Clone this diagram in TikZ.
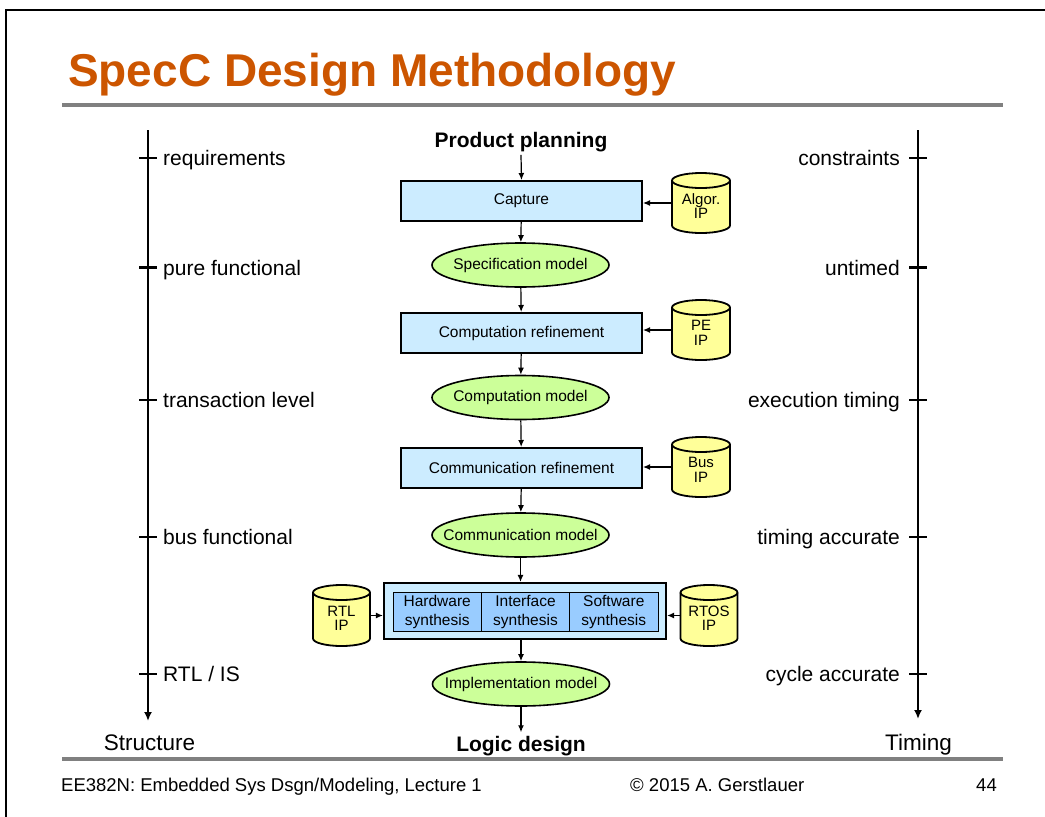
\documentclass[tikz,border=0pt]{standalone}
\usepackage{fontspec}
\setmainfont{Liberation Sans}
\usetikzlibrary{arrows.meta,calc,shapes.geometric}

\definecolor{titleorange}{RGB}{204,85,0}
\definecolor{boxblue}{RGB}{204,236,255}
\definecolor{cellblue}{RGB}{153,204,255}
\definecolor{modelgreen}{RGB}{204,255,153}
\definecolor{ipyellow}{RGB}{255,255,153}
\definecolor{rulegray}{RGB}{128,128,128}

% IP library drawn as an upright cylinder: name, x, y, width, height, label
\newcommand{\ipcyl}[6]{%
  \node[minimum width=#4pt, minimum height=#5pt, inner sep=0pt, outer sep=0pt] (#1) at (#2,#3) {};
  \filldraw[cylline]
    ($(#1.north west)+(0,-7.5)$) -- ($(#1.south west)+(0,7.5)$)
    arc[start angle=180, end angle=360, x radius=#4/2, y radius=7.5]
    -- ($(#1.north east)+(0,-7.5)$)
    arc[start angle=0, end angle=180, x radius=#4/2, y radius=7.5] -- cycle;
  \draw[cylline, fill=none] ($(#1.north west)+(0,-7.5)$)
    arc[start angle=180, end angle=360, x radius=#4/2, y radius=7.5];
  \node[cyltext] at ($(#1.center)+(0,-3)$) {#6};
}

\begin{document}
\begin{tikzpicture}[x=1pt, y=1pt,
  refbox/.style={draw, line width=2pt, fill=boxblue, minimum width=241pt,
    minimum height=40pt, inner sep=0pt, font=\fontsize{15.5}{18}\selectfont},
  model/.style={ellipse, draw, line width=1.6pt, fill=modelgreen,
    minimum width=177pt, minimum height=44pt, inner xsep=-16pt, inner ysep=0pt,
    font=\fontsize{15.5}{18}\selectfont},
  synbox/.style={draw, line width=2.2pt, fill=boxblue, minimum width=282pt,
    minimum height=56pt, inner sep=0pt},
  cell/.style={draw, line width=0.9pt, fill=cellblue, minimum width=88.3pt,
    minimum height=39pt, inner sep=0pt, align=center,
    font=\fontsize{15.5}{19}\selectfont},
  cylline/.style={line width=1.8pt, fill=ipyellow},
  cyltext/.style={align=center, inner sep=0pt, font=\fontsize{15}{14.5}\selectfont},
  flow/.style={line width=1.2pt, -{Latex[length=7pt,width=6pt]}},
  axis/.style={line width=2.5pt, -{Latex[length=9pt,width=8pt]}},
  tickmark/.style={line width=2.8pt},
  lvl/.style={font=\fontsize{21}{25}\selectfont, inner sep=0pt},
  axisname/.style={font=\fontsize{22.5}{26}\selectfont, inner sep=0pt},
  endpoint/.style={font=\bfseries\fontsize{21}{25}\selectfont},
  foot/.style={font=\fontsize{18.5}{21}\selectfont, inner sep=0pt}
]
\useasboundingbox (0,0) rectangle (1045,-817);

% slide frame, title and rules
\draw[line width=2.5pt] (6,-817) -- (6,-10) -- (1046,-10);
\node[anchor=base west, inner sep=0pt, text=titleorange,
  font=\bfseries\fontsize{46}{50}\selectfont] (title) at (68,-86) {SpecC Design Methodology};
\draw[rulegray, line width=4pt] (62,-105) -- (1003,-105);
\draw[rulegray, line width=4pt] (62,-759) -- (1003,-759);

% footer
\node[foot, anchor=base west] (f1) at (61,-791) {EE382N: Embedded Sys Dsgn/Modeling, Lecture 1};
\node[foot, anchor=base west] (f2) at (630,-791) {\textcopyright{} 2015 A. Gerstlauer};
\node[foot, anchor=base east] (f3) at (997,-791) {44};

% main flow
\node[endpoint, anchor=base] (pp) at (521,-147) {Product planning};
\node[refbox] (cap) at (521.5,-201) {Capture};
\node[model] (spec) at (520.5,-265) {Specification model};
\node[refbox] (cref) at (521.5,-333) {Computation refinement};
\node[model] (cmod) at (520.5,-397.5) {Computation model};
\node[refbox] (mref) at (521.5,-468) {Communication refinement};
\node[model] (mmod) at (520.5,-535) {Communication model};
\node[synbox] (syn) at (525,-611) {};
\node[cell] (hw) at (437.2,-611.5) {Hardware\\synthesis};
\node[cell] (ifs) at (525.5,-611.5) {Interface\\synthesis};
\node[cell] (sw) at (613.8,-611.5) {Software\\synthesis};
\node[model] (impl) at (521,-684) {Implementation model};
\node[endpoint, anchor=base] (ld) at (521,-751) {Logic design};

\draw[flow] (pp.south) -- (cap.north);
\draw[flow] (cap) -- (spec);
\draw[flow] (spec) -- (cref);
\draw[flow] (cref) -- (cmod);
\draw[flow] (cmod) -- (mref);
\draw[flow] (mref) -- (mmod);
\draw[flow] (mmod.south) -- (mmod.south |- syn.north);
\draw[flow] (impl.north |- syn.south) -- (impl.north);
\draw[flow] (impl.south) -- (ld.north);

% IP libraries
\ipcyl{algip}{701}{-203}{58}{60}{Algor.\\IP}
\ipcyl{peip}{701}{-330}{58}{60}{PE\\IP}
\ipcyl{busip}{701}{-467}{58}{60}{Bus\\IP}
\ipcyl{rtlip}{341.5}{-615.5}{57}{61}{RTL\\IP}
\ipcyl{rtosip}{709}{-615.5}{57}{61}{RTOS\\IP}

\draw[flow] (algip.west) -- (algip.west -| cap.east);
\draw[flow] (peip.west) -- (peip.west -| cref.east);
\draw[flow] (busip.west) -- (busip.west -| mref.east);
\draw[flow] (rtlip.east) -- (rtlip.east -| syn.west);
\draw[flow] (rtosip.west) -- (rtosip.west -| syn.east);

% structure axis
\coordinate (stop) at (148,-130);
\coordinate (sbot) at (148,-721);
\draw[axis] (stop) -- (sbot);
\node[axisname, anchor=base] (sname) at (149.5,-750) {Structure};

% timing axis
\coordinate (ttop) at (918,-130);
\coordinate (tbot) at (918,-719);
\draw[axis] (ttop) -- (tbot);
\node[axisname, anchor=base] (tname) at (918.5,-750) {Timing};

% abstraction levels on both axes
\foreach \yy/\sl/\tl [count=\i] in {158/requirements/constraints,
    267.5/{pure functional}/untimed,
    400/{transaction level}/{execution timing},
    537/{bus functional}/{timing accurate},
    674/{RTL / IS}/{cycle accurate}} {
  \coordinate (s\i) at (148,-\yy);
  \coordinate (t\i) at (918,-\yy);
  \draw[tickmark] ([xshift=-9pt]s\i) -- ([xshift=9pt]s\i);
  \draw[tickmark] ([xshift=-9pt]t\i) -- ([xshift=9pt]t\i);
  \node[lvl, anchor=base west] (sl\i) at ($(s\i)+(15,-7.5)$) {\sl};
  \node[lvl, anchor=base east] (tl\i) at ($(t\i)+(-18,-7.5)$) {\tl};
}
\end{tikzpicture}
\end{document}
